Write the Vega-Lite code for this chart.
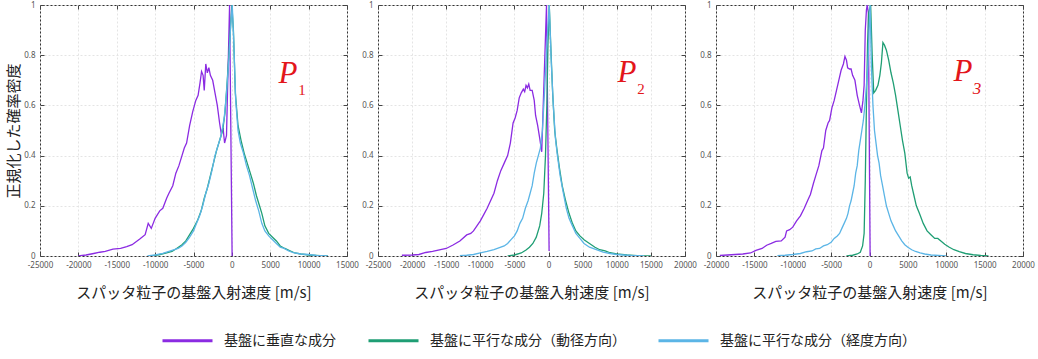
{
  "$schema": "https://vega.github.io/schema/vega-lite/v6.json",
  "padding": {"left": 6, "top": 0, "right": 5, "bottom": 2},
  "bounds": "flush",
  "spacing": 31,
  "config": {
    "view": {"stroke": "#333", "strokeWidth": 1},
    "font": "Noto Sans CJK JP",
    "axis": {
      "labelFont": "Noto Sans",
      "labelFontSize": 8,
      "labelColor": "#555",
      "tickColor": "#444",
      "titleFont": "Noto Sans CJK JP",
      "titleFontWeight": "normal",
      "titleColor": "#222"
    }
  },
  "datasets": {
    "curves": [
      {"p":1,"s":"v","x":-20000,"y":0},{"p":1,"s":"v","x":-19000,"y":0.004},{"p":1,"s":"v","x":-18000,"y":0.01},{"p":1,"s":"v","x":-17200,"y":0.015},{"p":1,"s":"v","x":-16500,"y":0.018},{"p":1,"s":"v","x":-15500,"y":0.027},{"p":1,"s":"v","x":-14500,"y":0.03},{"p":1,"s":"v","x":-13700,"y":0.037},{"p":1,"s":"v","x":-13000,"y":0.045},{"p":1,"s":"v","x":-12000,"y":0.068},{"p":1,"s":"v","x":-11300,"y":0.085},{"p":1,"s":"v","x":-10900,"y":0.13},{"p":1,"s":"v","x":-10500,"y":0.11},{"p":1,"s":"v","x":-10000,"y":0.15},{"p":1,"s":"v","x":-9400,"y":0.18},{"p":1,"s":"v","x":-9000,"y":0.19},{"p":1,"s":"v","x":-8500,"y":0.23},{"p":1,"s":"v","x":-8200,"y":0.25},{"p":1,"s":"v","x":-7700,"y":0.28},{"p":1,"s":"v","x":-7300,"y":0.33},{"p":1,"s":"v","x":-6900,"y":0.36},{"p":1,"s":"v","x":-6500,"y":0.4},{"p":1,"s":"v","x":-6200,"y":0.43},{"p":1,"s":"v","x":-5900,"y":0.45},{"p":1,"s":"v","x":-5500,"y":0.52},{"p":1,"s":"v","x":-5100,"y":0.575},{"p":1,"s":"v","x":-4700,"y":0.62},{"p":1,"s":"v","x":-4400,"y":0.64},{"p":1,"s":"v","x":-4150,"y":0.69},{"p":1,"s":"v","x":-3950,"y":0.735},{"p":1,"s":"v","x":-3750,"y":0.72},{"p":1,"s":"v","x":-3600,"y":0.66},{"p":1,"s":"v","x":-3400,"y":0.765},{"p":1,"s":"v","x":-3200,"y":0.73},{"p":1,"s":"v","x":-3000,"y":0.75},{"p":1,"s":"v","x":-2800,"y":0.72},{"p":1,"s":"v","x":-2500,"y":0.7},{"p":1,"s":"v","x":-2200,"y":0.65},{"p":1,"s":"v","x":-1900,"y":0.6},{"p":1,"s":"v","x":-1600,"y":0.53},{"p":1,"s":"v","x":-1400,"y":0.49},{"p":1,"s":"v","x":-1150,"y":0.51},{"p":1,"s":"v","x":-950,"y":0.45},{"p":1,"s":"v","x":-700,"y":0.48},{"p":1,"s":"v","x":-300,"y":1.0},{"p":1,"s":"v","x":30,"y":0},
      {"p":1,"s":"r","x":-10500,"y":0},{"p":1,"s":"r","x":-9500,"y":0.005},{"p":1,"s":"r","x":-8500,"y":0.012},{"p":1,"s":"r","x":-7800,"y":0.018},{"p":1,"s":"r","x":-7200,"y":0.03},{"p":1,"s":"r","x":-6500,"y":0.045},{"p":1,"s":"r","x":-6000,"y":0.06},{"p":1,"s":"r","x":-5500,"y":0.085},{"p":1,"s":"r","x":-5000,"y":0.11},{"p":1,"s":"r","x":-4500,"y":0.14},{"p":1,"s":"r","x":-4000,"y":0.18},{"p":1,"s":"r","x":-3600,"y":0.23},{"p":1,"s":"r","x":-3200,"y":0.27},{"p":1,"s":"r","x":-2800,"y":0.32},{"p":1,"s":"r","x":-2400,"y":0.37},{"p":1,"s":"r","x":-2000,"y":0.42},{"p":1,"s":"r","x":-1600,"y":0.46},{"p":1,"s":"r","x":-1200,"y":0.5},{"p":1,"s":"r","x":-900,"y":0.57},{"p":1,"s":"r","x":-600,"y":0.7},{"p":1,"s":"r","x":-300,"y":0.85},{"p":1,"s":"r","x":0,"y":1.0},{"p":1,"s":"r","x":200,"y":0.9},{"p":1,"s":"r","x":450,"y":0.65},{"p":1,"s":"r","x":800,"y":0.52},{"p":1,"s":"r","x":1200,"y":0.46},{"p":1,"s":"r","x":1600,"y":0.41},{"p":1,"s":"r","x":2000,"y":0.37},{"p":1,"s":"r","x":2400,"y":0.33},{"p":1,"s":"r","x":2800,"y":0.29},{"p":1,"s":"r","x":3200,"y":0.24},{"p":1,"s":"r","x":3600,"y":0.2},{"p":1,"s":"r","x":3900,"y":0.17},{"p":1,"s":"r","x":4300,"y":0.12},{"p":1,"s":"r","x":4800,"y":0.09},{"p":1,"s":"r","x":5300,"y":0.075},{"p":1,"s":"r","x":5800,"y":0.06},{"p":1,"s":"r","x":6300,"y":0.04},{"p":1,"s":"r","x":6900,"y":0.03},{"p":1,"s":"r","x":7500,"y":0.022},{"p":1,"s":"r","x":8200,"y":0.012},{"p":1,"s":"r","x":9000,"y":0.008},{"p":1,"s":"r","x":10000,"y":0.004},{"p":1,"s":"r","x":11500,"y":0.001},{"p":1,"s":"r","x":12500,"y":0},
      {"p":1,"s":"t","x":-11000,"y":0},{"p":1,"s":"t","x":-10000,"y":0.004},{"p":1,"s":"t","x":-9000,"y":0.01},{"p":1,"s":"t","x":-8000,"y":0.02},{"p":1,"s":"t","x":-7500,"y":0.025},{"p":1,"s":"t","x":-7000,"y":0.03},{"p":1,"s":"t","x":-6500,"y":0.04},{"p":1,"s":"t","x":-6000,"y":0.055},{"p":1,"s":"t","x":-5500,"y":0.075},{"p":1,"s":"t","x":-5000,"y":0.1},{"p":1,"s":"t","x":-4600,"y":0.13},{"p":1,"s":"t","x":-4200,"y":0.16},{"p":1,"s":"t","x":-3800,"y":0.2},{"p":1,"s":"t","x":-3400,"y":0.25},{"p":1,"s":"t","x":-3000,"y":0.29},{"p":1,"s":"t","x":-2600,"y":0.34},{"p":1,"s":"t","x":-2200,"y":0.4},{"p":1,"s":"t","x":-1800,"y":0.44},{"p":1,"s":"t","x":-1400,"y":0.48},{"p":1,"s":"t","x":-1000,"y":0.55},{"p":1,"s":"t","x":-700,"y":0.65},{"p":1,"s":"t","x":-400,"y":0.78},{"p":1,"s":"t","x":-150,"y":0.92},{"p":1,"s":"t","x":50,"y":1.0},{"p":1,"s":"t","x":250,"y":0.85},{"p":1,"s":"t","x":500,"y":0.62},{"p":1,"s":"t","x":800,"y":0.5},{"p":1,"s":"t","x":1100,"y":0.45},{"p":1,"s":"t","x":1500,"y":0.41},{"p":1,"s":"t","x":1900,"y":0.36},{"p":1,"s":"t","x":2300,"y":0.32},{"p":1,"s":"t","x":2700,"y":0.27},{"p":1,"s":"t","x":3100,"y":0.22},{"p":1,"s":"t","x":3500,"y":0.18},{"p":1,"s":"t","x":3900,"y":0.13},{"p":1,"s":"t","x":4300,"y":0.1},{"p":1,"s":"t","x":4800,"y":0.08},{"p":1,"s":"t","x":5300,"y":0.065},{"p":1,"s":"t","x":5800,"y":0.05},{"p":1,"s":"t","x":6300,"y":0.035},{"p":1,"s":"t","x":6800,"y":0.03},{"p":1,"s":"t","x":7400,"y":0.02},{"p":1,"s":"t","x":8000,"y":0.013},{"p":1,"s":"t","x":9000,"y":0.008},{"p":1,"s":"t","x":10000,"y":0.006},{"p":1,"s":"t","x":11000,"y":0.002},{"p":1,"s":"t","x":12500,"y":0},
      {"p":2,"s":"v","x":-21500,"y":0.003},{"p":2,"s":"v","x":-20000,"y":0.004},{"p":2,"s":"v","x":-19000,"y":0.006},{"p":2,"s":"v","x":-18000,"y":0.014},{"p":2,"s":"v","x":-17000,"y":0.018},{"p":2,"s":"v","x":-16000,"y":0.024},{"p":2,"s":"v","x":-15000,"y":0.03},{"p":2,"s":"v","x":-14000,"y":0.044},{"p":2,"s":"v","x":-13000,"y":0.06},{"p":2,"s":"v","x":-12000,"y":0.084},{"p":2,"s":"v","x":-11400,"y":0.09},{"p":2,"s":"v","x":-11000,"y":0.1},{"p":2,"s":"v","x":-10500,"y":0.12},{"p":2,"s":"v","x":-10000,"y":0.14},{"p":2,"s":"v","x":-9500,"y":0.165},{"p":2,"s":"v","x":-9000,"y":0.19},{"p":2,"s":"v","x":-8500,"y":0.22},{"p":2,"s":"v","x":-8000,"y":0.25},{"p":2,"s":"v","x":-7500,"y":0.3},{"p":2,"s":"v","x":-7000,"y":0.34},{"p":2,"s":"v","x":-6500,"y":0.37},{"p":2,"s":"v","x":-6000,"y":0.4},{"p":2,"s":"v","x":-5600,"y":0.45},{"p":2,"s":"v","x":-5200,"y":0.53},{"p":2,"s":"v","x":-4900,"y":0.55},{"p":2,"s":"v","x":-4600,"y":0.58},{"p":2,"s":"v","x":-4300,"y":0.63},{"p":2,"s":"v","x":-4000,"y":0.65},{"p":2,"s":"v","x":-3700,"y":0.665},{"p":2,"s":"v","x":-3500,"y":0.655},{"p":2,"s":"v","x":-3300,"y":0.68},{"p":2,"s":"v","x":-3100,"y":0.67},{"p":2,"s":"v","x":-2900,"y":0.685},{"p":2,"s":"v","x":-2700,"y":0.66},{"p":2,"s":"v","x":-2400,"y":0.66},{"p":2,"s":"v","x":-2100,"y":0.62},{"p":2,"s":"v","x":-1900,"y":0.56},{"p":2,"s":"v","x":-1600,"y":0.52},{"p":2,"s":"v","x":-1300,"y":0.47},{"p":2,"s":"v","x":-1000,"y":0.415},{"p":2,"s":"v","x":-300,"y":1.0},{"p":2,"s":"v","x":80,"y":0.02},
      {"p":2,"s":"r","x":-6000,"y":0},{"p":2,"s":"r","x":-5000,"y":0.004},{"p":2,"s":"r","x":-4000,"y":0.012},{"p":2,"s":"r","x":-3300,"y":0.024},{"p":2,"s":"r","x":-2800,"y":0.035},{"p":2,"s":"r","x":-2300,"y":0.05},{"p":2,"s":"r","x":-1800,"y":0.075},{"p":2,"s":"r","x":-1300,"y":0.12},{"p":2,"s":"r","x":-1000,"y":0.17},{"p":2,"s":"r","x":-700,"y":0.25},{"p":2,"s":"r","x":-450,"y":0.4},{"p":2,"s":"r","x":-250,"y":0.6},{"p":2,"s":"r","x":-80,"y":0.85},{"p":2,"s":"r","x":100,"y":1.0},{"p":2,"s":"r","x":350,"y":0.82},{"p":2,"s":"r","x":600,"y":0.65},{"p":2,"s":"r","x":900,"y":0.5},{"p":2,"s":"r","x":1200,"y":0.43},{"p":2,"s":"r","x":1600,"y":0.35},{"p":2,"s":"r","x":2000,"y":0.28},{"p":2,"s":"r","x":2500,"y":0.22},{"p":2,"s":"r","x":3000,"y":0.17},{"p":2,"s":"r","x":3500,"y":0.13},{"p":2,"s":"r","x":4000,"y":0.1},{"p":2,"s":"r","x":4600,"y":0.08},{"p":2,"s":"r","x":5200,"y":0.065},{"p":2,"s":"r","x":6000,"y":0.05},{"p":2,"s":"r","x":6800,"y":0.035},{"p":2,"s":"r","x":7500,"y":0.025},{"p":2,"s":"r","x":8300,"y":0.02},{"p":2,"s":"r","x":9000,"y":0.013},{"p":2,"s":"r","x":10000,"y":0.008},{"p":2,"s":"r","x":11500,"y":0.004},{"p":2,"s":"r","x":13000,"y":0.001},{"p":2,"s":"r","x":15000,"y":0},
      {"p":2,"s":"t","x":-13000,"y":0.001},{"p":2,"s":"t","x":-12000,"y":0.003},{"p":2,"s":"t","x":-11000,"y":0.006},{"p":2,"s":"t","x":-10000,"y":0.012},{"p":2,"s":"t","x":-9000,"y":0.018},{"p":2,"s":"t","x":-8000,"y":0.025},{"p":2,"s":"t","x":-7000,"y":0.035},{"p":2,"s":"t","x":-6500,"y":0.04},{"p":2,"s":"t","x":-6000,"y":0.05},{"p":2,"s":"t","x":-5500,"y":0.065},{"p":2,"s":"t","x":-5000,"y":0.08},{"p":2,"s":"t","x":-4600,"y":0.1},{"p":2,"s":"t","x":-4200,"y":0.13},{"p":2,"s":"t","x":-3800,"y":0.15},{"p":2,"s":"t","x":-3400,"y":0.19},{"p":2,"s":"t","x":-3000,"y":0.22},{"p":2,"s":"t","x":-2700,"y":0.25},{"p":2,"s":"t","x":-2400,"y":0.28},{"p":2,"s":"t","x":-2100,"y":0.33},{"p":2,"s":"t","x":-1800,"y":0.37},{"p":2,"s":"t","x":-1500,"y":0.4},{"p":2,"s":"t","x":-1200,"y":0.43},{"p":2,"s":"t","x":-900,"y":0.5},{"p":2,"s":"t","x":-600,"y":0.65},{"p":2,"s":"t","x":-300,"y":0.82},{"p":2,"s":"t","x":100,"y":1.0},{"p":2,"s":"t","x":400,"y":0.77},{"p":2,"s":"t","x":700,"y":0.6},{"p":2,"s":"t","x":1000,"y":0.47},{"p":2,"s":"t","x":1300,"y":0.4},{"p":2,"s":"t","x":1700,"y":0.32},{"p":2,"s":"t","x":2100,"y":0.26},{"p":2,"s":"t","x":2600,"y":0.19},{"p":2,"s":"t","x":3000,"y":0.15},{"p":2,"s":"t","x":3500,"y":0.12},{"p":2,"s":"t","x":4000,"y":0.09},{"p":2,"s":"t","x":4600,"y":0.07},{"p":2,"s":"t","x":5200,"y":0.05},{"p":2,"s":"t","x":6000,"y":0.035},{"p":2,"s":"t","x":7000,"y":0.025},{"p":2,"s":"t","x":8000,"y":0.015},{"p":2,"s":"t","x":9000,"y":0.01},{"p":2,"s":"t","x":10000,"y":0.006},{"p":2,"s":"t","x":12000,"y":0.002},{"p":2,"s":"t","x":14000,"y":0},
      {"p":3,"s":"v","x":-19500,"y":0.002},{"p":3,"s":"v","x":-18500,"y":0.004},{"p":3,"s":"v","x":-17500,"y":0.006},{"p":3,"s":"v","x":-16500,"y":0.008},{"p":3,"s":"v","x":-15500,"y":0.012},{"p":3,"s":"v","x":-14800,"y":0.022},{"p":3,"s":"v","x":-14000,"y":0.03},{"p":3,"s":"v","x":-13400,"y":0.043},{"p":3,"s":"v","x":-12800,"y":0.05},{"p":3,"s":"v","x":-12200,"y":0.058},{"p":3,"s":"v","x":-11500,"y":0.06},{"p":3,"s":"v","x":-11000,"y":0.075},{"p":3,"s":"v","x":-10800,"y":0.1},{"p":3,"s":"v","x":-10400,"y":0.105},{"p":3,"s":"v","x":-10000,"y":0.115},{"p":3,"s":"v","x":-9500,"y":0.14},{"p":3,"s":"v","x":-9000,"y":0.16},{"p":3,"s":"v","x":-8500,"y":0.19},{"p":3,"s":"v","x":-8000,"y":0.225},{"p":3,"s":"v","x":-7700,"y":0.245},{"p":3,"s":"v","x":-7300,"y":0.29},{"p":3,"s":"v","x":-7000,"y":0.32},{"p":3,"s":"v","x":-6600,"y":0.36},{"p":3,"s":"v","x":-6200,"y":0.42},{"p":3,"s":"v","x":-6000,"y":0.43},{"p":3,"s":"v","x":-5700,"y":0.5},{"p":3,"s":"v","x":-5400,"y":0.53},{"p":3,"s":"v","x":-5200,"y":0.54},{"p":3,"s":"v","x":-4900,"y":0.59},{"p":3,"s":"v","x":-4600,"y":0.62},{"p":3,"s":"v","x":-4300,"y":0.66},{"p":3,"s":"v","x":-4000,"y":0.7},{"p":3,"s":"v","x":-3700,"y":0.74},{"p":3,"s":"v","x":-3400,"y":0.765},{"p":3,"s":"v","x":-3200,"y":0.795},{"p":3,"s":"v","x":-3000,"y":0.78},{"p":3,"s":"v","x":-2850,"y":0.75},{"p":3,"s":"v","x":-2600,"y":0.745},{"p":3,"s":"v","x":-2400,"y":0.745},{"p":3,"s":"v","x":-2200,"y":0.72},{"p":3,"s":"v","x":-1900,"y":0.7},{"p":3,"s":"v","x":-1600,"y":0.64},{"p":3,"s":"v","x":-1300,"y":0.6},{"p":3,"s":"v","x":-1050,"y":0.57},{"p":3,"s":"v","x":-850,"y":0.62},{"p":3,"s":"v","x":-700,"y":0.68},{"p":3,"s":"v","x":-550,"y":0.9},{"p":3,"s":"v","x":-400,"y":0.98},{"p":3,"s":"v","x":-300,"y":1.0},{"p":3,"s":"v","x":-150,"y":0.97},{"p":3,"s":"v","x":80,"y":0},
      {"p":3,"s":"r","x":-3000,"y":0},{"p":3,"s":"r","x":-2200,"y":0.003},{"p":3,"s":"r","x":-1600,"y":0.008},{"p":3,"s":"r","x":-1200,"y":0.015},{"p":3,"s":"r","x":-900,"y":0.04},{"p":3,"s":"r","x":-700,"y":0.09},{"p":3,"s":"r","x":-550,"y":0.3},{"p":3,"s":"r","x":-400,"y":0.6},{"p":3,"s":"r","x":-250,"y":0.85},{"p":3,"s":"r","x":-100,"y":0.97},{"p":3,"s":"r","x":150,"y":1.0},{"p":3,"s":"r","x":350,"y":0.8},{"p":3,"s":"r","x":550,"y":0.65},{"p":3,"s":"r","x":800,"y":0.66},{"p":3,"s":"r","x":1100,"y":0.68},{"p":3,"s":"r","x":1350,"y":0.72},{"p":3,"s":"r","x":1550,"y":0.77},{"p":3,"s":"r","x":1750,"y":0.85},{"p":3,"s":"r","x":1950,"y":0.84},{"p":3,"s":"r","x":2200,"y":0.82},{"p":3,"s":"r","x":2500,"y":0.78},{"p":3,"s":"r","x":2800,"y":0.73},{"p":3,"s":"r","x":3100,"y":0.69},{"p":3,"s":"r","x":3400,"y":0.64},{"p":3,"s":"r","x":3700,"y":0.58},{"p":3,"s":"r","x":4000,"y":0.52},{"p":3,"s":"r","x":4300,"y":0.46},{"p":3,"s":"r","x":4600,"y":0.41},{"p":3,"s":"r","x":4900,"y":0.33},{"p":3,"s":"r","x":5100,"y":0.31},{"p":3,"s":"r","x":5300,"y":0.315},{"p":3,"s":"r","x":5500,"y":0.28},{"p":3,"s":"r","x":5800,"y":0.24},{"p":3,"s":"r","x":6100,"y":0.2},{"p":3,"s":"r","x":6500,"y":0.17},{"p":3,"s":"r","x":7000,"y":0.13},{"p":3,"s":"r","x":7500,"y":0.1},{"p":3,"s":"r","x":8000,"y":0.085},{"p":3,"s":"r","x":8500,"y":0.07},{"p":3,"s":"r","x":8900,"y":0.07},{"p":3,"s":"r","x":9300,"y":0.06},{"p":3,"s":"r","x":9800,"y":0.047},{"p":3,"s":"r","x":10400,"y":0.035},{"p":3,"s":"r","x":11000,"y":0.025},{"p":3,"s":"r","x":11700,"y":0.017},{"p":3,"s":"r","x":12500,"y":0.01},{"p":3,"s":"r","x":13500,"y":0.005},{"p":3,"s":"r","x":14500,"y":0.002},{"p":3,"s":"r","x":15500,"y":0},
      {"p":3,"s":"t","x":-12000,"y":0.001},{"p":3,"s":"t","x":-11000,"y":0.003},{"p":3,"s":"t","x":-10000,"y":0.006},{"p":3,"s":"t","x":-9000,"y":0.01},{"p":3,"s":"t","x":-8200,"y":0.017},{"p":3,"s":"t","x":-7500,"y":0.02},{"p":3,"s":"t","x":-7000,"y":0.028},{"p":3,"s":"t","x":-6500,"y":0.03},{"p":3,"s":"t","x":-6000,"y":0.04},{"p":3,"s":"t","x":-5500,"y":0.045},{"p":3,"s":"t","x":-5000,"y":0.055},{"p":3,"s":"t","x":-4600,"y":0.07},{"p":3,"s":"t","x":-4200,"y":0.08},{"p":3,"s":"t","x":-3900,"y":0.09},{"p":3,"s":"t","x":-3600,"y":0.11},{"p":3,"s":"t","x":-3300,"y":0.13},{"p":3,"s":"t","x":-3000,"y":0.15},{"p":3,"s":"t","x":-2800,"y":0.17},{"p":3,"s":"t","x":-2600,"y":0.2},{"p":3,"s":"t","x":-2400,"y":0.22},{"p":3,"s":"t","x":-2200,"y":0.25},{"p":3,"s":"t","x":-2000,"y":0.28},{"p":3,"s":"t","x":-1800,"y":0.33},{"p":3,"s":"t","x":-1600,"y":0.36},{"p":3,"s":"t","x":-1400,"y":0.42},{"p":3,"s":"t","x":-1200,"y":0.46},{"p":3,"s":"t","x":-1000,"y":0.5},{"p":3,"s":"t","x":-800,"y":0.54},{"p":3,"s":"t","x":-600,"y":0.6},{"p":3,"s":"t","x":-400,"y":0.68},{"p":3,"s":"t","x":-200,"y":0.76},{"p":3,"s":"t","x":-50,"y":0.9},{"p":3,"s":"t","x":80,"y":1.0},{"p":3,"s":"t","x":250,"y":0.75},{"p":3,"s":"t","x":450,"y":0.6},{"p":3,"s":"t","x":650,"y":0.5},{"p":3,"s":"t","x":850,"y":0.45},{"p":3,"s":"t","x":1050,"y":0.4},{"p":3,"s":"t","x":1250,"y":0.37},{"p":3,"s":"t","x":1450,"y":0.32},{"p":3,"s":"t","x":1700,"y":0.28},{"p":3,"s":"t","x":1950,"y":0.24},{"p":3,"s":"t","x":2200,"y":0.2},{"p":3,"s":"t","x":2500,"y":0.17},{"p":3,"s":"t","x":2800,"y":0.14},{"p":3,"s":"t","x":3100,"y":0.12},{"p":3,"s":"t","x":3400,"y":0.1},{"p":3,"s":"t","x":3800,"y":0.08},{"p":3,"s":"t","x":4200,"y":0.06},{"p":3,"s":"t","x":4600,"y":0.045},{"p":3,"s":"t","x":5000,"y":0.035},{"p":3,"s":"t","x":5500,"y":0.025},{"p":3,"s":"t","x":6000,"y":0.018},{"p":3,"s":"t","x":6600,"y":0.012},{"p":3,"s":"t","x":7200,"y":0.008},{"p":3,"s":"t","x":8000,"y":0.004},{"p":3,"s":"t","x":9000,"y":0.002},{"p":3,"s":"t","x":10000,"y":0}
    ],
    "labels": [
      {"p":1,"t":"P","sub":"1","x":7310,"y":0.725},
      {"p":2,"t":"P","sub":"2","x":11500,"y":0.73},
      {"p":3,"t":"P","sub":"3","x":12180,"y":0.735}
    ]
  },
  "resolve": {"scale": {"x": "independent", "y": "independent", "color": "shared"}},
  "hconcat": [
    {
      "width": 307, "height": 251,
      "layer": [
        {
          "data": {"name": "curves"},
          "transform": [{"filter": "datum.p == 1"}],
          "mark": {"type": "line", "strokeWidth": 1.3, "clip": true},
          "encoding": {
            "x": {"field": "x", "type": "quantitative", "scale": {"domain": [-25000, 15000], "nice": false},
                  "axis": {"orient": "bottom", "values": [-25000,-20000,-15000,-10000,-5000,0,5000,10000,15000], "labelExpr": "'' + datum.value", "labelFlush": false, "labelOverlap": false, "tickSize": -4, "labelPadding": 9, "domain": false, "grid": true, "gridColor": "#e4e4e4", "gridDash": [2,2], "title": "スパッタ粒子の基盤入射速度 [m/s]", "titleFontSize": 15, "titlePadding": 16}},
            "y": {"field": "y", "type": "quantitative", "scale": {"domain": [0, 1], "nice": false},
                  "axis": {"orient": "left", "values": [0,0.2,0.4,0.6,0.8,1], "labelExpr": "'' + datum.value", "tickSize": -4, "labelPadding": 9, "domain": false, "grid": true, "gridColor": "#e4e4e4", "gridDash": [2,2], "title": "正規化した確率密度", "titleFontSize": 15, "titlePadding": 2}},
            "color": {"field": "s", "type": "nominal",
                      "scale": {"domain": ["v","r","t"], "range": ["#8b2be2","#1f9e74","#5bb5e6"]},
                      "legend": {"orient": "none", "legendX": 121, "legendY": 309, "direction": "horizontal", "title": null,
                                 "symbolType": "stroke", "symbolSize": 2500, "symbolStrokeWidth": 3,
                                 "labelFontSize": 14, "labelFont": "Noto Sans CJK JP", "labelColor": "#222", "labelOffset": 10, "columnPadding": 26, "labelLimit": 400,
                                 "labelExpr": "datum.value == 'v' ? '基盤に垂直な成分' : datum.value == 'r' ? '基盤に平行な成分（動径方向）' : '基盤に平行な成分（経度方向）'"}}
          }
        },
        {
          "data": {"name": "labels"},
          "transform": [{"filter": "datum.p == 1"}],
          "mark": {"type": "text", "font": "Liberation Serif", "fontStyle": "italic", "fontSize": 31, "color": "#e3161b", "align": "center", "baseline": "middle"},
          "encoding": {
            "x": {"field": "x", "type": "quantitative", "axis": {"orient": "top", "values": [-25000,-20000,-15000,-10000,-5000,0,5000,10000,15000], "labels": false, "tickSize": -4, "domain": false, "grid": false, "title": null}},
            "y": {"field": "y", "type": "quantitative", "axis": {"orient": "right", "values": [0,0.2,0.4,0.6,0.8,1], "labels": false, "tickSize": -4, "domain": false, "grid": false, "title": null}},
            "text": {"field": "t"}
          }
        },
        {
          "data": {"name": "labels"},
          "transform": [{"filter": "datum.p == 1"}],
          "mark": {"type": "text", "font": "Liberation Serif", "fontSize": 15, "color": "#e3161b", "align": "center", "baseline": "middle", "dx": 14, "dy": 16},
          "encoding": {
            "x": {"field": "x", "type": "quantitative", "axis": null},
            "y": {"field": "y", "type": "quantitative", "axis": null},
            "text": {"field": "sub"}
          }
        }
      ],
      "resolve": {"axis": {"x": "independent", "y": "independent"}}
    },
    {
      "width": 307, "height": 251,
      "layer": [
        {
          "data": {"name": "curves"},
          "transform": [{"filter": "datum.p == 2"}],
          "mark": {"type": "line", "strokeWidth": 1.3, "clip": true},
          "encoding": {
            "x": {"field": "x", "type": "quantitative", "scale": {"domain": [-25000, 20000], "nice": false},
                  "axis": {"orient": "bottom", "values": [-25000,-20000,-15000,-10000,-5000,0,5000,10000,15000,20000], "labelExpr": "'' + datum.value", "labelFlush": false, "labelOverlap": false, "tickSize": -4, "labelPadding": 9, "domain": false, "grid": true, "gridColor": "#e4e4e4", "gridDash": [2,2], "title": "スパッタ粒子の基盤入射速度 [m/s]", "titleFontSize": 15, "titlePadding": 16}},
            "y": {"field": "y", "type": "quantitative", "scale": {"domain": [0, 1], "nice": false},
                  "axis": {"orient": "left", "values": [0,0.2,0.4,0.6,0.8,1], "labelExpr": "'' + datum.value", "tickSize": -4, "labelPadding": 9, "domain": false, "grid": true, "gridColor": "#e4e4e4", "gridDash": [2,2], "title": null}},
            "color": {"field": "s", "type": "nominal", "scale": {"domain": ["v","r","t"], "range": ["#8b2be2","#1f9e74","#5bb5e6"]}}
          }
        },
        {
          "data": {"name": "labels"},
          "transform": [{"filter": "datum.p == 2"}],
          "mark": {"type": "text", "font": "Liberation Serif", "fontStyle": "italic", "fontSize": 31, "color": "#e3161b", "align": "center", "baseline": "middle"},
          "encoding": {
            "x": {"field": "x", "type": "quantitative", "axis": {"orient": "top", "values": [-25000,-20000,-15000,-10000,-5000,0,5000,10000,15000,20000], "labels": false, "tickSize": -4, "domain": false, "grid": false, "title": null}},
            "y": {"field": "y", "type": "quantitative", "axis": {"orient": "right", "values": [0,0.2,0.4,0.6,0.8,1], "labels": false, "tickSize": -4, "domain": false, "grid": false, "title": null}},
            "text": {"field": "t"}
          }
        },
        {
          "data": {"name": "labels"},
          "transform": [{"filter": "datum.p == 2"}],
          "mark": {"type": "text", "font": "Liberation Serif", "fontSize": 15, "color": "#e3161b", "align": "center", "baseline": "middle", "dx": 14, "dy": 16},
          "encoding": {
            "x": {"field": "x", "type": "quantitative", "axis": null},
            "y": {"field": "y", "type": "quantitative", "axis": null},
            "text": {"field": "sub"}
          }
        }
      ],
      "resolve": {"axis": {"x": "independent", "y": "independent"}}
    },
    {
      "width": 307, "height": 251,
      "layer": [
        {
          "data": {"name": "curves"},
          "transform": [{"filter": "datum.p == 3"}],
          "mark": {"type": "line", "strokeWidth": 1.3, "clip": true},
          "encoding": {
            "x": {"field": "x", "type": "quantitative", "scale": {"domain": [-20000, 20000], "nice": false},
                  "axis": {"orient": "bottom", "values": [-20000,-15000,-10000,-5000,0,5000,10000,15000,20000], "labelExpr": "'' + datum.value", "labelFlush": false, "labelOverlap": false, "tickSize": -4, "labelPadding": 9, "domain": false, "grid": true, "gridColor": "#e4e4e4", "gridDash": [2,2], "title": "スパッタ粒子の基盤入射速度 [m/s]", "titleFontSize": 15, "titlePadding": 16}},
            "y": {"field": "y", "type": "quantitative", "scale": {"domain": [0, 1], "nice": false},
                  "axis": {"orient": "left", "values": [0,0.2,0.4,0.6,0.8,1], "labelExpr": "'' + datum.value", "tickSize": -4, "labelPadding": 9, "domain": false, "grid": true, "gridColor": "#e4e4e4", "gridDash": [2,2], "title": null}},
            "color": {"field": "s", "type": "nominal", "scale": {"domain": ["v","r","t"], "range": ["#8b2be2","#1f9e74","#5bb5e6"]}}
          }
        },
        {
          "data": {"name": "labels"},
          "transform": [{"filter": "datum.p == 3"}],
          "mark": {"type": "text", "font": "Liberation Serif", "fontStyle": "italic", "fontSize": 31, "color": "#e3161b", "align": "center", "baseline": "middle"},
          "encoding": {
            "x": {"field": "x", "type": "quantitative", "axis": {"orient": "top", "values": [-20000,-15000,-10000,-5000,0,5000,10000,15000,20000], "labels": false, "tickSize": -4, "domain": false, "grid": false, "title": null}},
            "y": {"field": "y", "type": "quantitative", "axis": {"orient": "right", "values": [0,0.2,0.4,0.6,0.8,1], "labels": false, "tickSize": -4, "domain": false, "grid": false, "title": null}},
            "text": {"field": "t"}
          }
        },
        {
          "data": {"name": "labels"},
          "transform": [{"filter": "datum.p == 3"}],
          "mark": {"type": "text", "font": "Liberation Serif", "fontSize": 17, "fontStyle": "italic", "color": "#e3161b", "align": "center", "baseline": "middle", "dx": 14, "dy": 17},
          "encoding": {
            "x": {"field": "x", "type": "quantitative", "axis": null},
            "y": {"field": "y", "type": "quantitative", "axis": null},
            "text": {"field": "sub"}
          }
        }
      ],
      "resolve": {"axis": {"x": "independent", "y": "independent"}}
    }
  ]
}
